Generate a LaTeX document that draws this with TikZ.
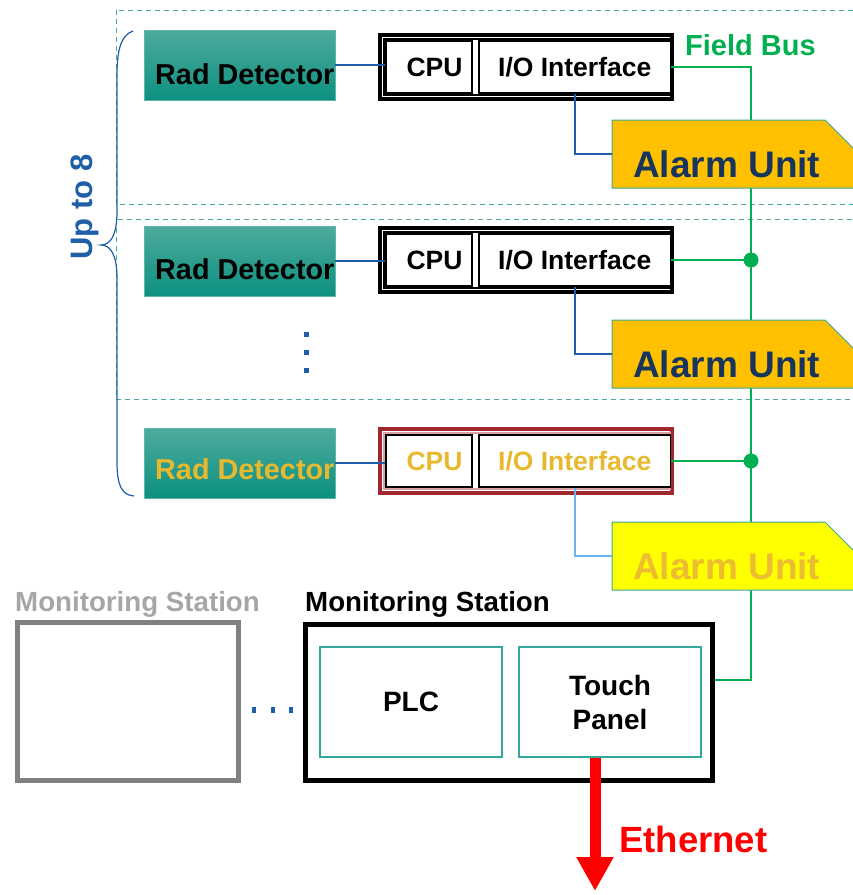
\documentclass[tikz,border=0pt]{standalone}
\usepackage{fontspec}
\setmainfont{Liberation Sans}
\usetikzlibrary{arrows.meta}

\definecolor{radtop}{HTML}{4EAB9D}
\definecolor{radbot}{HTML}{0C9080}
\definecolor{radedge}{HTML}{5DB8AC}
\definecolor{ctlblue}{HTML}{1F5EA8}
\definecolor{ctlpale}{HTML}{6AB4F2}
\definecolor{busgreen}{HTML}{00B050}
\definecolor{zoneteal}{HTML}{45A8A2}
\definecolor{alarmedge}{HTML}{3AA6A0}
\definecolor{alarmorange}{HTML}{FFC000}
\definecolor{alarmyellow}{HTML}{FFFF00}
\definecolor{alarmnavy}{HTML}{17365D}
\definecolor{fadedgold}{HTML}{E8B92E}
\definecolor{alarmgold}{HTML}{ECBD30}
\definecolor{framered}{HTML}{A0282C}
\definecolor{framepink}{HTML}{D9A3A3}
\definecolor{panelteal}{HTML}{31A89A}
\definecolor{stationgray}{HTML}{808080}
\definecolor{labelgray}{HTML}{A6A6A6}
\definecolor{ethred}{HTML}{FF0000}

% one controller row: frame, CPU cell and I/O cell
\newcommand\unitrow[5]{%
  \begin{scope}[shift={(0,#2)}]
    \node[unitframe, draw=#3] (fr#1) at (526,67) {};
    \draw[#4, line width=1.2pt] (384,39) rectangle (670.5,95);
    \node[cellbox, minimum width=86pt, text=#5] (cpu#1) at (429,67) {\hspace*{11pt}CPU};
    \node[cellbox, minimum width=191.5pt, text=#5] (io#1) at (574.75,67) {I/O Interface};
  \end{scope}}

% one alarm unit: cut-corner plate with its label
\newcommand\alarmplate[4]{%
  \begin{scope}[shift={(0,#2)}]
    \filldraw[fill=#3, draw=alarmedge, line width=1pt]
      (612,0) -- (825,0) -- (870,45) -- (870,68) -- (612,68) -- cycle;
    \node[alarmtext, text=#4] (au#1) at (633,57) {Alarm Unit};
    \coordinate (au#1in) at (612,34);
  \end{scope}}

\begin{document}
\begin{tikzpicture}[x=1pt,y=-1pt,
  radbox/.style={draw=radedge, line width=0.8pt, top color=radtop, bottom color=radbot,
    minimum width=191pt, minimum height=70pt, inner sep=0pt},
  radtext/.style={anchor=base west, inner sep=0pt, font=\fontsize{28.8}{34}\selectfont\bfseries},
  unitframe/.style={line width=4pt, minimum width=292pt, minimum height=64pt, inner sep=0pt},
  cellbox/.style={draw=black, line width=1.4pt, minimum height=52pt, inner sep=0pt,
    font=\fontsize{26.5}{30}\selectfont\bfseries},
  alarmtext/.style={anchor=base west, inner sep=0pt, font=\fontsize{37}{40}\selectfont\bfseries},
  ctlline/.style={draw=ctlblue, line width=2pt},
  linkline/.style={draw=ctlblue, line width=1.3pt},
  busline/.style={draw=busgreen, line width=2.2pt},
  busdot/.style={circle, fill=busgreen, inner sep=0pt, minimum size=15pt},
  zonebox/.style={draw=zoneteal, line width=1pt, dash pattern=on 5pt off 4pt},
  stationbox/.style={line width=5pt, inner sep=0pt},
  panelbox/.style={draw=panelteal, line width=1.2pt, minimum width=182pt, minimum height=110pt,
    inner sep=0pt, align=center, font=\fontsize{28}{34}\selectfont\bfseries},
  heading/.style={anchor=base west, inner sep=0pt, font=\fontsize{27.7}{32}\selectfont\bfseries},
  ethline/.style={draw=ethred, line width=11pt, -{Triangle[width=35pt,length=34pt]}},
]
\useasboundingbox (0,0) rectangle (853,895);
\clip (0,0) rectangle (853,895);

% repeated field zones
\draw[zonebox] (116,10) rectangle (880,204);
\draw[zonebox] (116,219) rectangle (880,399);

% brace grouping the rows
\draw[ctlblue, line width=1.2pt]
  (133,31) .. controls (121,35) and (117,50) .. (117,75) -- (117,212)
  .. controls (117,236) and (110,245) .. (101,245)
  .. controls (110,245) and (117,254) .. (117,278) -- (117,462)
  .. controls (117,486) and (122,495) .. (134,496);
\node[rotate=90, text=ctlblue, font=\fontsize{31}{34}\selectfont\bfseries, inner sep=0pt]
  (upto) at (85,207) {Up to 8};

% monitoring stations
\node[heading, text=labelgray] (ms0lbl) at (15,611) {Monitoring Station};
\node[stationbox, draw=stationgray, minimum width=221pt, minimum height=158pt] (ms0) at (128,701.5) {};
\node[heading, text=black] (mslbl) at (305,611) {Monitoring Station};
\node[stationbox, draw=black, fill=white, minimum width=407pt, minimum height=156pt] (ms) at (509,702.5) {};
\node[panelbox] (plc) at (411,702) {PLC};
\node[panelbox] (tp) at (610,702) {Touch\\Panel};

% controller rows
\unitrow{1}{0}{black}{black}{black}
\unitrow{2}{193}{black}{black}{black}
\unitrow{3}{394}{framered}{framepink}{fadedgold}

% field bus
\coordinate (busbot) at (751,680);
\draw[busline] (io1.east) -| (busbot) -- (ms.east |- busbot);
\draw[busline] (io2.east) -- (io2.east -| busbot) node[busdot] (j2) {};
\draw[busline] (io3.east) -- (io3.east -| busbot) node[busdot] (j3) {};
\node[heading, text=busgreen, font=\fontsize{29}{32}\selectfont\bfseries] (fblbl) at (685,55) {Field Bus};

% alarm units
\alarmplate{1}{120}{alarmorange}{alarmnavy}
\alarmplate{2}{320}{alarmorange}{alarmnavy}
\alarmplate{3}{522}{alarmyellow}{alarmgold}
\draw[ctlline] (io1.south) |- (au1in);
\draw[ctlline] (io2.south) |- (au2in);
\draw[ctlline, draw=ctlpale] (io3.south) |- (au3in);

% radiation detectors
\node[radbox] (rd1) at (239.5,65) {};
\node[radbox] (rd2) at (239.5,261) {};
\node[radbox] (rd3) at (239.5,463) {};
\node[radtext, text=black] (rdt1) at (155,84) {Rad Detector};
\node[radtext, text=black] (rdt2) at (155,279) {Rad Detector};
\node[radtext, text=fadedgold] (rdt3) at (155,479) {Rad Detector};
\draw[linkline] (rd1.east) -- (rd1.east -| cpu1.west);
\draw[linkline] (rd2.east) -- (rd2.east -| cpu2.west);
\draw[linkline] (rd3.east) -- (rd3.east -| cpu3.west);

% ellipses for further rows and stations
\foreach \yy in {334,352,370} \fill[ctlblue] (303.5,\yy-2.5) rectangle (308.5,\yy+2.5);
\foreach \xx in {254,273,291} \fill[ctlblue] (\xx-2.25,707) rectangle (\xx+2.25,713);

% ethernet uplink
\coordinate (ethtip) at (595,891);
\draw[ethline] (tp.south -| ethtip) -- (ethtip);
\node[heading, text=ethred, font=\fontsize{36.5}{40}\selectfont\bfseries] (ethlbl) at (619,852) {Ethernet};
\end{tikzpicture}
\end{document}
